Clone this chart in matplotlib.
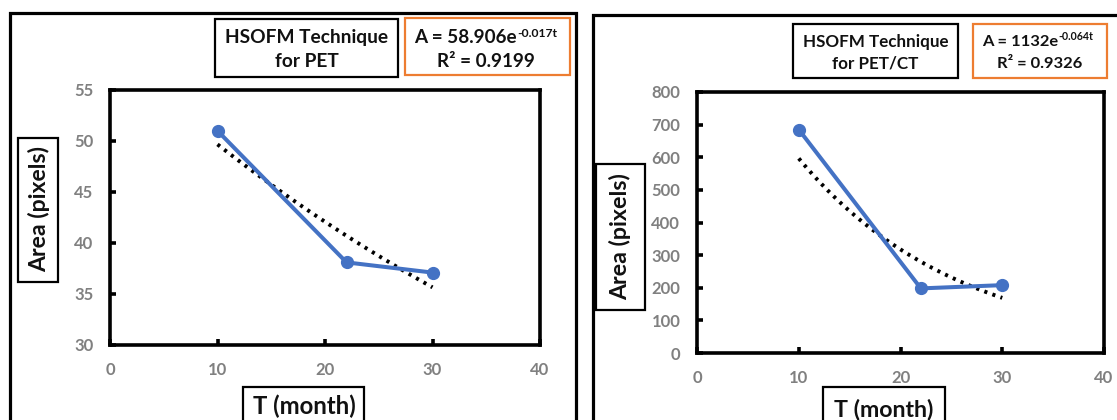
import numpy as np
import matplotlib
matplotlib.use("Agg")
import matplotlib.pyplot as plt
from matplotlib.patches import Rectangle

plt.rcParams['font.family'] = ['Lato', 'DejaVu Sans']

# ---- data ----
t_pet = [10, 22, 30]
area_pet = [51.0, 38.1, 37.1]
t_petct = [10, 22, 30]
area_petct = [685, 198, 208]

title_pet = ["HSOFM Technique", "for PET"]
title_petct = ["HSOFM Technique", "for PET/CT"]
eq_pet = ["A = 58.906e", "-0.017t", "R² = 0.9199"]
eq_petct = ["A = 1132e", "-0.064t", "R² = 0.9326"]
xlabel = "T (month)"
ylabel = "Area (pixels)"
xticks = [0, 10, 20, 30, 40]
yticks_pet = [30, 35, 40, 45, 50, 55]
yticks_petct = [0, 100, 200, 300, 400, 500, 600, 700, 800]

W, H = 1117, 420
fig = plt.figure(figsize=(W / 100, H / 100), dpi=100)
renderer = fig.canvas.get_renderer()

BLUE = '#4472C4'
GREY = '#808080'
ORANGE = '#ED7D31'


def rect(x0, y0, x1, y1, ec='black', lw=1.6):
    r = Rectangle((x0 / W, 1 - y1 / H), (x1 - x0) / W, (y1 - y0) / H,
                  transform=fig.transFigure, fill=False, ec=ec, lw=lw,
                  clip_on=False)
    fig.add_artist(r)


def fit_size(s, target):
    t = fig.text(0, 0, s, fontsize=10, fontweight='bold')
    bb = t.get_window_extent(renderer)
    t.remove()
    return 10 * target / bb.width


def ftext(x, y, s, size, ha='center', va='baseline', rotation=0):
    return fig.text(x / W, 1 - y / H, s, ha=ha, va=va, fontsize=size,
                    fontweight='bold', rotation=rotation, color='#111111',
                    rotation_mode='anchor')


def title_block(cx, base1, base2, lines, width):
    size = fit_size(lines[0], width)
    ftext(cx, base1, lines[0], size)
    ftext(cx, base2, lines[1], size)


def eq_block(x_left, main_w, sup_w, base1, sup_base, cx2, base2, parts):
    size = fit_size(parts[0], main_w)
    ssize = fit_size(parts[1], sup_w)
    ftext(x_left, base1, parts[0], size, ha='left')
    ftext(x_left + main_w + 0.5, sup_base, parts[1], ssize, ha='left')
    ftext(cx2, base2, parts[2], size)


def panel(ax_px, t, a, yticks, ylim):
    x0, y0, x1, y1 = ax_px
    ax = fig.add_axes([x0 / W, 1 - y1 / H, (x1 - x0) / W, (y1 - y0) / H])
    coef = np.polyfit(t, np.log(a), 1)
    tt = np.linspace(t[0], t[-1], 100)
    ax.plot(tt, np.exp(np.polyval(coef, tt)), color='black', lw=2.8,
            linestyle=(0, (0.8, 1.4)), zorder=2)
    ax.plot(t, a, color=BLUE, lw=2.9, marker='o', ms=8.5, zorder=3)
    ax.set_xlim(0, 40)
    ax.set_ylim(*ylim)
    ax.set_xticks(xticks)
    ax.set_yticks(yticks)
    for s in ax.spines.values():
        s.set_linewidth(2.6)
    ax.tick_params(direction='in', length=4, width=2.6, colors='black',
                   labelcolor=GREY, labelsize=12, pad=12)
    for lab in ax.get_xticklabels() + ax.get_yticklabels():
        lab.set_fontweight('bold')
    return ax


# ---------- left panel ----------
rect(10, 13, 576, 440, lw=2.3)
panel((110, 90, 540, 345), t_pet, area_pet, yticks_pet, (30, 55))
rect(215, 19, 398, 77)
title_block(306.5, 43.3, 66.7, title_pet, 164)
rect(405, 18, 570, 75, ec=ORANGE)
eq_block(414, 103, 40, 43, 37, 486, 67, eq_pet)
rect(18, 138, 58, 282)
sz = fit_size(ylabel, 126)
ftext(46, 209, ylabel, sz, rotation=90)
rect(243, 387, 364, 440)
sz = fit_size(xlabel, 103)
ftext(304.5, 414, xlabel, sz)

# ---------- right panel ----------
rect(593, 15, 1140, 440, lw=2.3)
panel((697, 92, 1104, 353), t_petct, area_petct, yticks_petct, (0, 800))
rect(793, 24, 958, 78)
title_block(875.5, 46.7, 68.3, title_petct, 146)
rect(973, 24, 1107, 77.7, ec=ORANGE)
eq_block(982, 76, 35, 45.7, 40.5, 1040, 68.3, eq_petct)
rect(596, 164, 645, 310)
sz = fit_size(ylabel, 127)
ftext(627, 237, ylabel, sz, rotation=90)
rect(823, 387, 945, 440)
sz = fit_size(xlabel, 100)
ftext(883.5, 416, xlabel, sz)

fig.savefig('out.png', dpi=100)
